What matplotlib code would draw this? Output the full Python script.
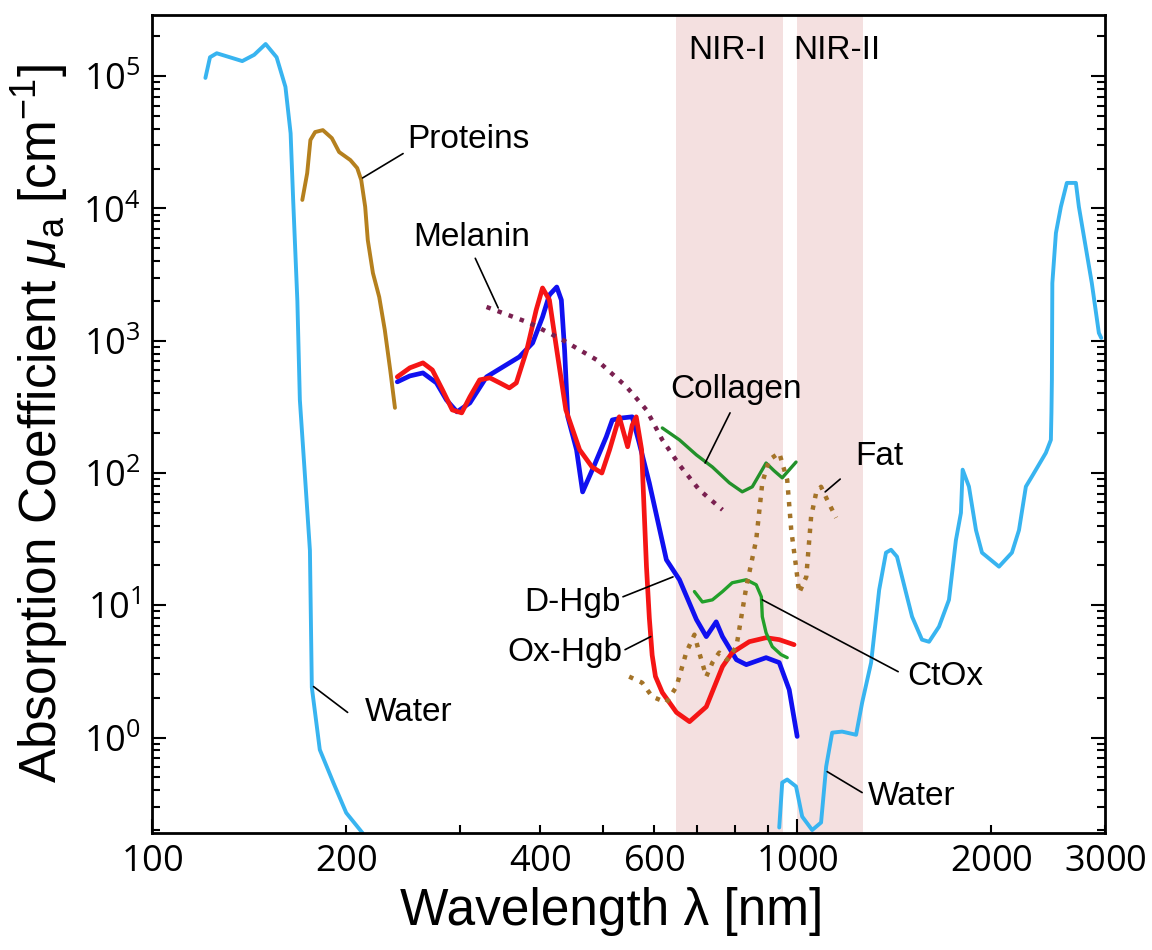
import numpy as np
import matplotlib
matplotlib.use("Agg")
import matplotlib.pyplot as plt
from matplotlib.ticker import FixedLocator, FuncFormatter, NullFormatter

plt.rcParams['font.family'] = ['Liberation Sans', 'DejaVu Sans']
plt.rcParams['mathtext.fontset'] = 'custom'
plt.rcParams['mathtext.rm'] = 'Liberation Sans'
plt.rcParams['mathtext.it'] = 'Liberation Sans:italic'
plt.rcParams['mathtext.sf'] = 'Open Sans'

# ---------------- data ----------------
water_uv_nm = [121, 123, 126, 132, 138, 144, 150, 156, 161, 164, 165.5, 168, 169.5, 172.5,
               175.7, 176.9, 182, 191, 200, 212]
water_uv_mu = [9.7e4, 1.39e5, 1.49e5, 1.39e5, 1.30e5, 1.45e5, 1.75e5, 1.39e5, 8.3e4, 3.7e4,
               1.16e4, 2.0e3, 357, 100, 26, 2.4, 0.81, 0.457, 0.27, 0.19]

water_ir_nm = [938, 948, 965, 996, 1018, 1055, 1089, 1109, 1133, 1174, 1234, 1261, 1302, 1340,
               1373, 1398, 1428, 1475, 1507, 1561, 1601, 1659, 1719, 1762, 1794, 1805, 1846,
               1893, 1934, 2055, 2152, 2207, 2262, 2311, 2429, 2473, 2478, 2482, 2486, 2518,
               2563, 2618, 2704, 2733, 2862, 2935, 2960]
water_ir_mu = [0.209, 0.457, 0.482, 0.427, 0.253, 0.20, 0.228, 0.604, 1.09, 1.11, 1.05, 1.84,
               3.69, 13.1, 25, 26.3, 23.3, 12.4, 8.2, 5.5, 5.3, 6.9, 11.0, 31, 50, 106, 79,
               37, 25, 19.6, 25, 37, 79, 94, 142, 178, 285, 506, 2730, 6520,
               1.03e4, 1.56e4, 1.56e4, 1.03e4, 2730, 1145, 1050]

proteins_nm = [171, 174, 176, 179, 184, 190, 195, 203, 208, 211, 214, 216, 220, 225, 229.5, 234, 238]
proteins_mu = [1.16e4, 1.85e4, 3.29e4, 3.78e4, 3.91e4, 3.40e4, 2.67e4, 2.32e4, 2.02e4, 1.64e4,
               1.03e4, 5770, 3250, 2140, 1210, 601, 311]

melanin_nm = [330, 385, 433, 489, 544, 584, 618, 657, 705, 766]
melanin_mu = [1800, 1362, 1014, 716, 448, 300, 178, 115, 74.7, 52.7]

dhgb_nm = [240, 251, 263, 276, 286, 297, 311, 330, 371, 389, 403, 413, 424, 431, 436, 441, 455,
           465, 485, 506, 517, 536, 555, 569, 590, 627, 657, 698, 723, 749, 766, 805, 834, 895,
           938, 972, 1000]
dhgb_mu = [489, 542, 571, 480, 357, 290, 339, 533, 755, 962, 1512, 2220, 2547, 2033, 852, 266,
           150, 72, 115, 188, 252, 261, 266, 169, 84, 22.1, 15.6, 7.8, 5.8, 7.5, 5.8, 3.88,
           3.56, 4.02, 3.69, 2.3, 1.02]

ohgb_nm = [240, 251, 263, 272, 282, 292, 302, 311, 322, 334, 346, 358, 367, 381, 394, 403, 413,
           424, 438, 460, 481, 498, 512, 530, 546, 555, 563, 574, 584, 590, 596, 603, 618, 650,
           681, 723, 766, 793, 843, 895, 938, 989]
ohgb_mu = [533, 624, 680, 601, 425, 300, 285, 377, 506, 524, 480, 440, 480, 852, 1709, 2505,
           2033, 852, 300, 150, 111, 100, 150, 266, 158, 230, 266, 150, 19.6, 8.0, 4.2, 2.9,
           2.19, 1.55, 1.32, 1.71, 3.44, 4.39, 5.31, 5.69, 5.5, 5.04]

collagen_nm = [618, 657, 698, 739, 785, 822, 852, 895, 921, 948, 996]
collagen_mu = [219, 178, 137, 111, 84.3, 72.1, 78.7, 119, 104, 92, 121]

ctox_nm = [693, 713, 739, 766, 793, 834, 864, 880, 883, 895, 915, 944, 965]
ctox_mu = [12.7, 10.6, 11.0, 12.7, 14.8, 15.6, 14.3, 11.6, 8.2, 6.2, 4.87, 4.24, 4.02]

fat_nm = [549, 575, 596, 627, 650, 673, 693, 705, 723, 739, 757, 779, 805, 834, 864, 883, 905,
          938, 965, 979, 996, 1007, 1033, 1051, 1070, 1089, 1113, 1149]
fat_mu = [2.89, 2.6, 2.04, 1.84, 2.43, 4.39, 6.0, 4.39, 2.89, 3.69, 4.39, 3.88, 4.87, 13.8,
          31.3, 84.3, 126, 142, 88.9, 37.2, 19.6, 12.4, 16.4, 46.7, 70.8, 78.7, 62.8, 45.9]

nir_windows = [(650, 950, "NIR-I", 779), (1000, 1265, "NIR-II", 1153)]

x_ticks_major = [100, 1000]
x_tick_labels = [100, 200, 400, 600, 1000, 2000, 3000]
y_decades = [0, 1, 2, 3, 4, 5]

# label text, text position, leader (from, to)
labels = [
    ("Proteins", (249, 3.3e4), "left", (245, 2.6e4), (212, 1.7e4)),
    ("Melanin", (254, 6.0e3), "left", (317, 4.2e3), (344, 1.77e3)),
    ("Collagen", (636, 425), "left", (787, 285), (720, 119)),
    ("Fat", (1230, 133), "left", (1166, 90), (1105, 72)),
    ("D-Hgb", (532, 10.5), "right", (537, 11.6), (642, 16.4)),
    ("Ox-Hgb", (535, 4.39), "right", (541, 4.62), (593, 5.8)),
    ("CtOx", (1481, 2.89), "left", (1434, 3.15), (883, 11.0)),
    ("Water", (214, 1.55), "left", (201, 1.55), (178, 2.43)),
    ("Water", (1288, 0.358), "left", (1261, 0.384), (1113, 0.553)),
]

# ---------------- plot ----------------
fig = plt.figure(figsize=(11.52, 9.5), dpi=100)
ax = fig.add_axes([152 / 1152, 1 - 833 / 950, (1105 - 152) / 1152, (833 - 15) / 950])
ax.set_xscale("log")
ax.set_yscale("log")
ax.set_xlim(100, 3000)
ax.set_ylim(0.19, 2.9e5)

for lo, hi, name, xc in nir_windows:
    ax.axvspan(lo, hi, color="#f4e0e0", zorder=0, lw=0)
    ax.text(xc, 1.57e5, name, ha="center", va="center", fontsize=24, zorder=6)

water_c = "#38b4f0"
kw = dict(solid_joinstyle="round", solid_capstyle="round")
ax.plot(water_uv_nm, water_uv_mu, color=water_c, lw=2.8, zorder=2, **kw)
ax.plot(water_ir_nm, water_ir_mu, color=water_c, lw=2.8, zorder=2, **kw)
ax.plot(proteins_nm, proteins_mu, color="#b5801e", lw=2.8, zorder=3, **kw)
ax.plot(dhgb_nm, dhgb_mu, color="#1010f0", lw=3.4, zorder=4, **kw)
ax.plot(ohgb_nm, ohgb_mu, color="#f51515", lw=3.4, zorder=4, **kw)
ax.plot(collagen_nm, collagen_mu, color="#22912a", lw=2.4, zorder=4, **kw)
ax.plot(ctox_nm, ctox_mu, color="#22a02a", lw=2.4, zorder=4, **kw)
ax.plot(melanin_nm, melanin_mu, color="#7a2050", lw=3.2, ls=":", zorder=5)
ax.plot(fat_nm, fat_mu, color="#a47328", lw=3.2, ls=":", zorder=5)

for text, pos, ha, p0, p1 in labels:
    ax.annotate("", xy=p1, xytext=p0,
                arrowprops=dict(arrowstyle="-", color="black", lw=1.2,
                                shrinkA=0, shrinkB=0), zorder=6)
    ax.text(pos[0], pos[1], text, ha=ha, va="center", fontsize=24, zorder=6)

# ticks
x_minor = [m * d for d in (100, 1000) for m in range(2, 10) if m * d <= 3000]
ax.xaxis.set_major_locator(FixedLocator(x_ticks_major))
ax.xaxis.set_minor_locator(FixedLocator(x_minor))
fmt_x = FuncFormatter(lambda v, p: r"$\mathsf{%d}$" % round(v) if round(v) in x_tick_labels else "")
ax.xaxis.set_major_formatter(fmt_x)
ax.xaxis.set_minor_formatter(fmt_x)

y_major = [10.0 ** d for d in y_decades]
y_minor = [m * 10.0 ** d for d in range(-1, 6) for m in range(2, 10) if 0.19 <= m * 10.0 ** d <= 2.9e5]
ax.yaxis.set_major_locator(FixedLocator(y_major))
ax.yaxis.set_minor_locator(FixedLocator(y_minor))
ax.yaxis.set_major_formatter(FuncFormatter(lambda v, p: r"$\mathsf{10^{%d}}$" % round(np.log10(v))))
ax.yaxis.set_minor_formatter(NullFormatter())

ax.tick_params(which="both", direction="in", right=True, top=False, width=1.5,
               labelsize=26, colors="black")
ax.tick_params(which="major", length=10)
ax.tick_params(which="minor", length=6)
ax.tick_params(axis="x", which="both", pad=8)
ax.tick_params(axis="y", which="both", pad=8)
for sp in ax.spines.values():
    sp.set_linewidth(2)

ax.set_xlabel("Wavelength λ [nm]", fontsize=37)
ax.xaxis.set_label_coords((612 - 152) / 953, -(912 - 833) / 818)
ax.xaxis.label.set_va("center")
ax.set_ylabel(r"Absorption Coefficient $\mu_{\mathrm{a}}$ [cm$^{\mathrm{-1}}$]", fontsize=37)
ax.yaxis.set_label_coords(-(152 - 40) / 953, 0.5)
ax.yaxis.label.set_va("center")

fig.savefig("out.png", dpi=100)
